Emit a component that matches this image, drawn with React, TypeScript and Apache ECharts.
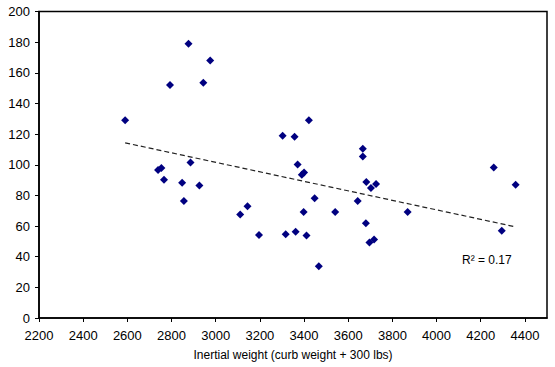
import React, { useEffect, useRef } from "react";
import * as echarts from "echarts";

const weights = [2590, 2739, 2754, 2766, 2793, 2848, 2856, 2877, 2886, 2926, 2944, 2975, 3111, 3144, 3196, 3303, 3317, 3357, 3362, 3371, 3390, 3400, 3398, 3411, 3422, 3448, 3467, 3541, 3643, 3666, 3666, 3680, 3682, 3703, 3726, 3696, 3717, 3869, 4259, 4295, 4358];
const values = [129, 96.5, 97.8, 90.2, 152, 88.3, 76.4, 179, 101.5, 86.5, 153.5, 168, 67.5, 73, 54.2, 119, 54.7, 118.2, 56.2, 100.2, 93.5, 95, 69.2, 53.8, 129, 78.2, 33.8, 69.2, 76.4, 110.4, 105.4, 61.9, 88.8, 84.8, 87.5, 49.2, 51.2, 69.2, 98.2, 57, 86.9];
const trendX = [2590, 4360];
const trendY = [114.3, 59.4];
const xTitle = "Inertial weight (curb weight + 300 lbs)";
const rSquared = "R² = 0.17";

const FONT = "Liberation Sans, Arial, sans-serif";

export default function App() {
  const ref = useRef<HTMLDivElement>(null);
  useEffect(() => {
    if (!ref.current) return;
    const chart = echarts.init(ref.current, null, { renderer: "svg" });
    chart.setOption({
      animation: false,
      backgroundColor: "#fff",
      grid: {
        left: 39,
        top: 11.5,
        right: 8,
        bottom: 49,
        show: true,
        borderColor: "#000",
        borderWidth: 1.5,
      },
      xAxis: {
        type: "value",
        min: 2200,
        max: 4500,
        interval: 200,
        name: xTitle,
        nameLocation: "middle",
        nameGap: 31,
        nameTextStyle: { fontFamily: FONT, fontSize: 12, color: "#000" },
        axisLine: { lineStyle: { color: "#000", width: 1.5 } },
        axisTick: { show: true, length: 4, lineStyle: { color: "#000" } },
        axisLabel: {
          fontFamily: FONT,
          fontSize: 13,
          color: "#000",
          margin: 11,
          showMaxLabel: false,
          formatter: (v: number) => String(v),
        },
        splitLine: { show: false },
      },
      yAxis: {
        type: "value",
        min: 0,
        max: 200,
        interval: 20,
        axisLine: { show: true, lineStyle: { color: "#000", width: 1.5 } },
        axisTick: { show: true, length: 4, lineStyle: { color: "#000" } },
        axisLabel: { fontFamily: FONT, fontSize: 13, color: "#000", margin: 9 },
        splitLine: { show: false },
      },
      series: [
        {
          type: "scatter",
          symbol: "diamond",
          symbolSize: 8,
          itemStyle: { color: "#000080", opacity: 1 },
          data: weights.map((w, i) => [w, values[i]]),
        },
        {
          type: "line",
          symbol: "none",
          silent: true,
          lineStyle: { color: "#222", width: 1.2, type: [5, 3] },
          data: trendX.map((x, i) => [x, trendY[i]]),
        },
      ],
      graphic: [
        {
          type: "text",
          left: 462,
          top: 254,
          style: { text: rSquared, fontFamily: FONT, fontSize: 12, fill: "#000" },
        },
      ],
    });
    return () => chart.dispose();
  }, []);
  return (
    <div
      ref={ref}
      style={{ position: "absolute", left: 0, top: 0, width: 555, height: 367 }}
    />
  );
}
